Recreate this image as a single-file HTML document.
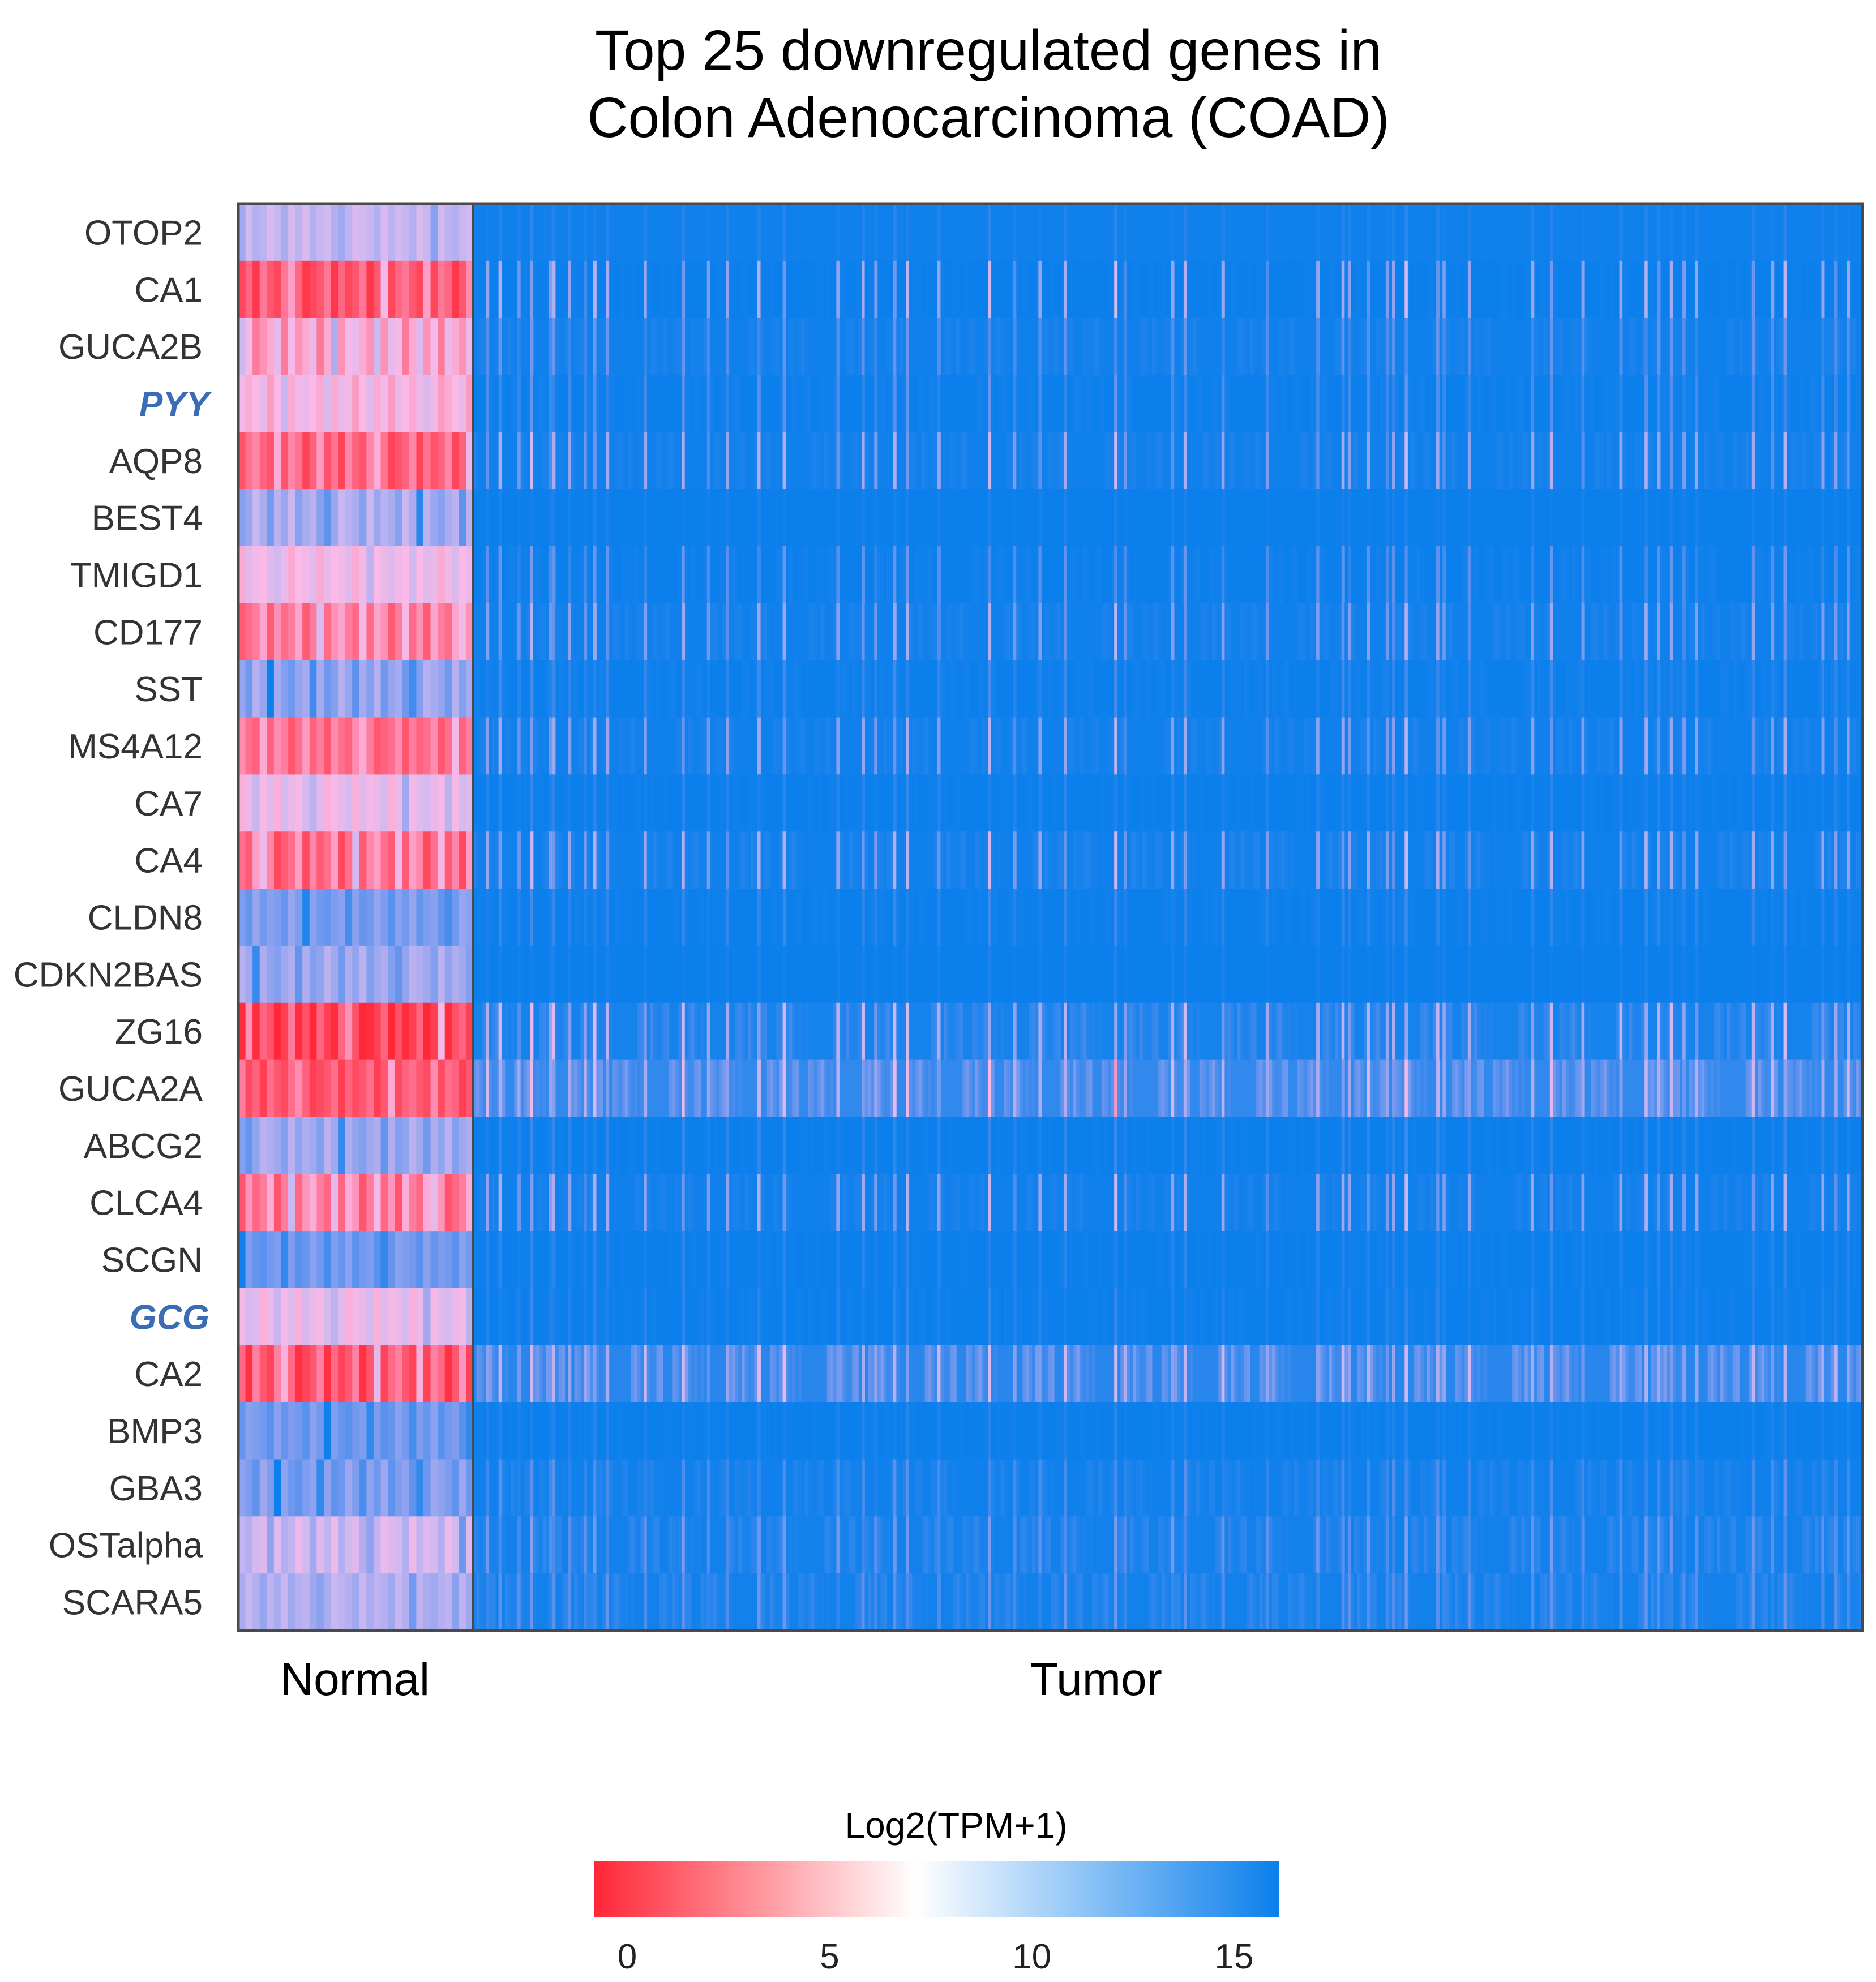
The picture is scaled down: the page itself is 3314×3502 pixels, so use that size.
<!DOCTYPE html>
<html><head><meta charset="utf-8">
<style>
html,body{margin:0;padding:0;background:#fff;}
svg{display:block;font-family:"Liberation Sans",Arial,sans-serif;}
</style></head>
<body>
<svg id="chart" width="3314" height="3502" viewBox="0 0 3314 3502" xmlns="http://www.w3.org/2000/svg">
<defs>
<linearGradient id="cbar" x1="0" x2="1" y1="0" y2="0">
<stop offset="0" stop-color="#ff2636"/>
<stop offset="0.47" stop-color="#ffffff"/>
<stop offset="1" stop-color="#0b7fec"/>
</linearGradient>
</defs>
<text x="1746" y="123" font-size="100" text-anchor="middle" fill="#000">Top 25 downregulated genes in</text>
<text x="1746" y="242" font-size="100" text-anchor="middle" fill="#000">Colon Adenocarcinoma (COAD)</text>
<g id="cells"></g>
<g id="labels"></g>
<rect x="421" y="360" width="2869" height="2521" fill="none" stroke="#4a4a4a" stroke-width="5"/>
<line x1="836" y1="360" x2="836" y2="2881" stroke="#4a4a4a" stroke-width="4"/>
<text x="627" y="2995" font-size="82" text-anchor="middle" fill="#000">Normal</text>
<text x="1936" y="2995" font-size="82" text-anchor="middle" fill="#000">Tumor</text>
<text x="1689" y="3247" font-size="64" text-anchor="middle" fill="#000">Log2(TPM+1)</text>
<rect x="1049" y="3289" width="1211" height="98" fill="url(#cbar)"/>
<g id="cticks"></g>
</svg>
<script>
const genes=["OTOP2","CA1","GUCA2B","PYY","AQP8","BEST4","TMIGD1","CD177","SST","MS4A12","CA7","CA4","CLDN8","CDKN2BAS","ZG16","GUCA2A","ABCG2","CLCA4","SCGN","GCG","CA2","BMP3","GBA3","OSTalpha","SCARA5"];
const highlighted=["PYY","GCG"];
const normalMean=[8.5,2,5,5.5,2.5,10,6,3.5,11,3,6.5,3,12,10.5,1,2,10.5,3.5,12.5,6.5,2,12.5,12,8,9.5];
const normalOffsets=[2,-0.5,1,0.5,-1,0,1.5,-0.5,0.5,-1,1,0,-0.5,1,2,0.5,-1,-0.5,0,1,-1,0.5,-0.5,0,1,-1,0,3,-0.5,0.5,1,0,-0.5];
const tumorBase=[15.5,15.6,15.5,15.6,15.5,15.6,15.6,15.5,15.6,15.5,15.6,15.5,15.6,15.6,15.3,14.6,15.6,15.5,15.6,15.6,14.8,15.6,15.5,15.4,15.4];
const geneSens=[0.3,3,1.2,1,2.8,0.2,1.3,2.4,0.6,2.5,0.4,2.8,0.5,0.2,3.4,3,0.5,2.8,0.4,0.4,2.6,0.3,0.8,1.3,1];
const geneNoise=[0.05,0.1,0.3,0.2,0.3,0.05,0.2,0.3,0.2,0.3,0.1,0.4,0.15,0.05,0.8,1.6,0.1,0.3,0.1,0.15,1.8,0.1,0.4,0.6,0.6];
const spikeIdx=[4,8,14,18,24,25,30,35,38,42,54,66,74,80,90,98,115,123,127,133,137,147,163,171,179,187,203,206,221,225,237,251,267,275,277,283,289,291,295,305,307,315,335,341,351,363,371,375,379,383,387,405,411,415,427,431,435];
const spikeStrength=[1.5,2,1,2.5,1.2,2,1.5,1,2,1.8,1.5,2,1.2,1.5,2,2,1.5,1.8,1.2,2,2.2,1.5,2.5,1.2,1.5,1.8,2.6,1,1.5,2,1.6,1.2,1.5,1.8,1.4,1.6,1.2,1.5,2.5,1.8,1.2,1.5,1.6,2,1.4,1.6,2,1.5,1.8,1.2,1.5,1.8,1.4,2.2,1.5,1.3,1.6];
const tumorNoise=[0,0.8,0.2,0,1.5,0.3,0,0.5,1,0,0.2,1.2,0,0.4,0,0.9,0.1,0,1.3,0.3,0,0.6,0,1,0.2,0,0.7,1.4,0,0.3,0.5];
const nNormal=33, nTumor=440;
const tickVals=[0,5,10,15];

const X0=421, XB=836, X1=3290, Y0=360, Y1=2881;
const rowH=(Y1-Y0)/genes.length;
const xNormal=i=>X0+(XB-X0)*i/nNormal;
const xTumor=i=>XB+(X1-XB)*i/nTumor;
const yRow=r=>Y0+rowH*r;
const cbX=v=>1108+(2180-1108)*v/15;
const rampV=[0,3,5.5,8,11,13.5,15.6];
const rampC=[[255,40,55],[255,110,140],[250,185,230],[210,185,240],[150,165,240],[90,145,238],[11,127,236]];
function color(v){
  v=Math.max(0,Math.min(15.6,v));
  let k=0;while(k<rampV.length-2&&v>rampV[k+1])k++;
  const t=(v-rampV[k])/(rampV[k+1]-rampV[k]);
  const c=rampC[k].map((a,j)=>Math.round(a+(rampC[k+1][j]-a)*t));
  return `rgb(${c.join(",")})`;
}
const NS="http://www.w3.org/2000/svg";
const cells=document.getElementById("cells");
const labels=document.getElementById("labels");
genes.forEach((g,r)=>{
  const y=yRow(r);
  for(let i=0;i<nNormal;i++){
    const v=normalMean[r]+normalOffsets[(i+r*7)%nNormal]*(1+0.3*(r%3));
    const el=document.createElementNS(NS,"rect");
    el.setAttribute("x",xNormal(i));el.setAttribute("y",y);
    el.setAttribute("width",(XB-X0)/nNormal+0.6);el.setAttribute("height",rowH+0.5);
    el.setAttribute("fill",color(v));
    
    
    cells.appendChild(el);
  }
  const bg=document.createElementNS(NS,"rect");
  bg.setAttribute("x",XB);bg.setAttribute("y",y);bg.setAttribute("width",X1-XB);bg.setAttribute("height",rowH+0.5);
  bg.setAttribute("fill",color(tumorBase[r]));
  
  
  cells.appendChild(bg);
  for(let i=0;i<nTumor;i++){
    let v=tumorBase[r]-geneNoise[r]*tumorNoise[(i*3+r)%tumorNoise.length];
    const si=spikeIdx.indexOf(i);
    if(si>=0) v-=geneSens[r]*spikeStrength[si]*((si+r)%4===0?0.5:1);
    if(v>=tumorBase[r]-0.05) continue;
    const el=document.createElementNS(NS,"rect");
    el.setAttribute("x",xTumor(i));el.setAttribute("y",y);
    el.setAttribute("width",(X1-XB)/nTumor+0.4);el.setAttribute("height",rowH+0.5);
    el.setAttribute("fill",color(v));
    
    
    cells.appendChild(el);
  }
  const t=document.createElementNS(NS,"text");
  const hl=highlighted.includes(g);
  t.setAttribute("x",hl?370:358);t.setAttribute("y",y+rowH/2+22);
  t.setAttribute("text-anchor","end");t.setAttribute("font-size","62");
  t.setAttribute("fill",hl?"#3a6db5":"#333");
  if(hl){t.setAttribute("font-weight","bold");t.setAttribute("font-style","italic");}
  t.textContent=g;
  
  
  labels.appendChild(t);
});
const ct=document.getElementById("cticks");
tickVals.forEach(v=>{
  const t=document.createElementNS(NS,"text");
  t.setAttribute("x",cbX(v));t.setAttribute("y",3478);
  t.setAttribute("text-anchor","middle");t.setAttribute("font-size","62");t.setAttribute("fill","#222");
  t.textContent=v;
  
  
  ct.appendChild(t);
});
</script>
</body></html>
